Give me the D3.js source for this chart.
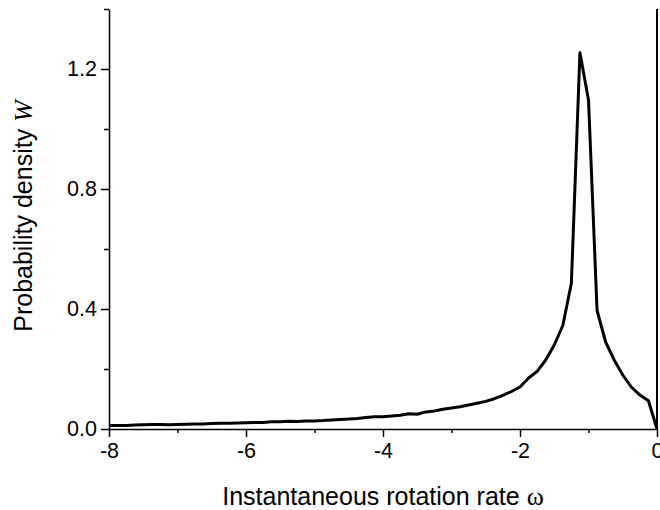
<!DOCTYPE html>
<meta charset="utf-8">
<title>Probability density</title>
<script src="https://cdn.jsdelivr.net/npm/d3@7"></script>
<style>
html, body {
    margin: 0;
    background: #fff;
}
svg {
    display: block;
    font-family: "Liberation Sans", Arial, sans-serif;
}
.axis path, .axis line {
    stroke: #000;
    stroke-width: 1.5;
}
.axis text {
    font-size: 21.5px;
    fill: #000;
}
</style>
<body>
<script>
var width = 660,
    height = 510,
    margin = {top: 9, right: 3, bottom: 81, left: 109};

// rotation rate bins, step 0.125 from -8 to 0
var omega = d3.range(0, 65).map(function(i) { return -8 + i * 0.125; });

var density = [
    0.012, 0.012, 0.012, 0.013, 0.014, 0.015, 0.015, 0.014,
    0.015, 0.016, 0.017, 0.017, 0.018, 0.019, 0.019, 0.020,
    0.021, 0.022, 0.022, 0.024, 0.024, 0.026, 0.025, 0.027,
    0.027, 0.028, 0.030, 0.032, 0.033, 0.035, 0.038, 0.041,
    0.041, 0.043, 0.046, 0.051, 0.049, 0.057, 0.060, 0.066,
    0.070, 0.074, 0.080, 0.086, 0.092, 0.101, 0.112, 0.125,
    0.140, 0.170, 0.192, 0.230, 0.280, 0.345, 0.486, 1.254,
    1.097, 0.395, 0.290, 0.230, 0.180, 0.140, 0.113, 0.094,
    0.000
];

var xTicks = [-8, -6, -4, -2, 0],
    xMinor = [-7, -5, -3, -1],
    yTicks = [0, 0.4, 0.8, 1.2],
    yMinor = [0.2, 0.6, 1.0, 1.4];

var svg = d3.select("body").append("svg")
    .attr("width", width)
    .attr("height", height);

var x = d3.scaleLinear().domain([-8, 0]).range([margin.left, width - margin.right]);
var y = d3.scaleLinear().domain([0, 1.4]).range([height - margin.bottom, margin.top]);

// minor ticks first, no labels
svg.append("g")
    .attr("class", "axis")
    .attr("transform", "translate(0," + y(0) + ")")
    .call(d3.axisBottom(x).tickValues(xMinor).tickSize(4).tickFormat(""))
    .call(function(g) { g.select(".domain").remove(); });

svg.append("g")
    .attr("class", "axis")
    .attr("transform", "translate(" + x(-8) + ",0)")
    .call(d3.axisLeft(y).tickValues(yMinor).tickSize(5).tickFormat(""))
    .call(function(g) { g.select(".domain").remove(); });

// plain hyphen for negatives, like the original plot
svg.append("g")
    .attr("class", "axis")
    .attr("transform", "translate(0," + y(0) + ")")
    .call(d3.axisBottom(x).tickValues(xTicks).tickSize(8).tickSizeOuter(0).tickPadding(6)
        .tickFormat(function(d) { return String(d); }));

svg.append("g")
    .attr("class", "axis")
    .attr("transform", "translate(" + x(-8) + ",0)")
    .call(d3.axisLeft(y).tickValues(yTicks).tickSize(8).tickSizeOuter(0).tickPadding(4)
        .tickFormat(function(d) { return d.toFixed(1); }));

// right frame line
svg.append("line")
    .attr("x1", x(0)).attr("x2", x(0))
    .attr("y1", y(1.4)).attr("y2", y(0))
    .attr("stroke", "#000")
    .attr("stroke-width", 2);

var line = d3.line()
    .x(function(d, i) { return x(omega[i]); })
    .y(function(d) { return y(d); });

svg.append("path")
    .datum(density)
    .attr("fill", "none")
    .attr("stroke", "#000")
    .attr("stroke-width", 3)
    .attr("stroke-linejoin", "round")
    .attr("d", line);

// axis titles
svg.append("text")
    .attr("x", (x(-8) + x(0)) / 2)
    .attr("y", 505)
    .attr("text-anchor", "middle")
    .style("font-size", "25px")
    .text("Instantaneous rotation rate ")
    .append("tspan")
    .style("font-family", "'Liberation Serif', 'Times New Roman', serif")
    .style("font-size", "26px")
    .text("ω");

svg.append("text")
    .attr("transform", "translate(32," + 216 + ") rotate(-90)")
    .attr("text-anchor", "middle")
    .style("font-size", "25px")
    .text("Probability density ")
    .append("tspan")
    .style("font-family", "'Liberation Serif', 'Times New Roman', serif")
    .style("font-style", "italic")
    .style("font-size", "26px")
    .text("W");
</script>
